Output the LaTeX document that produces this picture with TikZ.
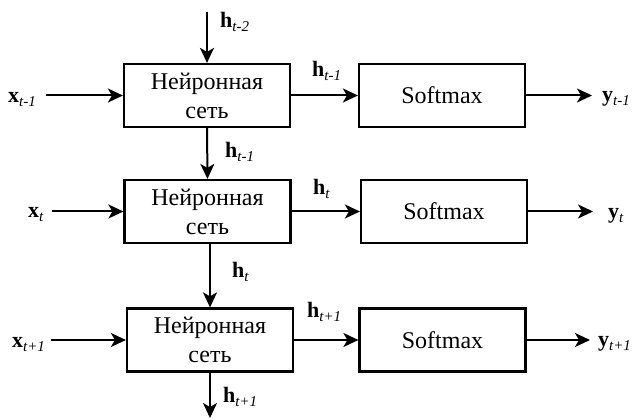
\documentclass[tikz,border=0pt]{standalone}
\usepackage{fontspec}
\setmainfont{Liberation Serif}
\usetikzlibrary{arrows.meta}

% bold vector with an italic lowered index
\newcommand\vlab[2]{{\fontsize{22}{22}\selectfont\bfseries #1}\raisebox{-4pt}{\fontsize{15}{15}\selectfont\itshape #2}}

\tikzset{
  block/.style={draw, line width=2.2pt, minimum width=166pt, minimum height=63pt,
    inner sep=0pt, align=center, font=\fontsize{24}{29}\selectfont},
  lbl/.style={inner sep=0pt, anchor=base west},
  arr/.style={line width=2pt, -{Stealth[length=15pt,width=14pt,inset=4pt]}}
}

\begin{document}
\begin{tikzpicture}[x=1pt,y=-1pt]
\useasboundingbox (0,0) rectangle (633,419);

% network cells and softmax blocks
\node[block] (nn1) at (207,95.5) {Нейронная\\сеть};
\node[block] (sm1) at (442,95.5) {Softmax};
\node[block] (nn2) at (207.5,211.5) {Нейронная\\сеть};
\node[block] (sm2) at (444,211.5) {Softmax};
\node[block] (nn3) at (210,340) {Нейронная\\сеть};
\node[block] (sm3) at (442.5,340) {Softmax};

% labels
\node[lbl] (htop) at (220,28) {\vlab{h}{t-2}};
\node[lbl] (xa) at (8,103) {\vlab{x}{t-1}};
\node[lbl] (ha) at (312,77) {\vlab{h}{t-1}};
\node[lbl] (ya) at (602,102) {\vlab{y}{t-1}};
\node[lbl] (hab) at (225,158) {\vlab{h}{t-1}};

\node[lbl] (xb) at (28,218) {\vlab{x}{t}};
\node[lbl] (hb) at (313,195) {\vlab{h}{t}};
\node[lbl] (yb) at (608,219) {\vlab{y}{t}};
\node[lbl] (hbb) at (232,278) {\vlab{h}{t}};

\node[lbl] (xc) at (12,348) {\vlab{x}{t+1}};
\node[lbl] (hc) at (307,318) {\vlab{h}{t+1}};
\node[lbl] (yc) at (598,347) {\vlab{y}{t+1}};
\node[lbl] (hcb) at (223,403) {\vlab{h}{t+1}};

% free ends of the recurrent chain
\coordinate (top) at (207,12);
\coordinate (bot) at (210,418);

% recurrent connections
\draw[arr] (top) -- (nn1.north);
\draw[arr] (nn1.south) -- (nn2.north);
\draw[arr] (nn3.north |- nn2.south) -- (nn3.north);
\draw[arr] (nn3.south) -- (bot);

% inputs
\draw[arr, shorten <=10pt] (xa.east |- nn1.west) -- (nn1.west);
\draw[arr, shorten <=8pt] (xb.east |- nn2.west) -- (nn2.west);
\draw[arr, shorten <=6pt] (xc.east |- nn3.west) -- (nn3.west);

% hidden state to softmax
\draw[arr] (nn1.east) -- (sm1.west);
\draw[arr] (nn2.east) -- (sm2.west);
\draw[arr] (nn3.east) -- (sm3.west);

% outputs
\draw[arr, shorten >=10pt] (sm1.east) -- (ya.west |- sm1.east);
\draw[arr, shorten >=15pt] (sm2.east) -- (yb.west |- sm2.east);
\draw[arr, shorten >=8pt] (sm3.east) -- (yc.west |- sm3.east);
\end{tikzpicture}
\end{document}
